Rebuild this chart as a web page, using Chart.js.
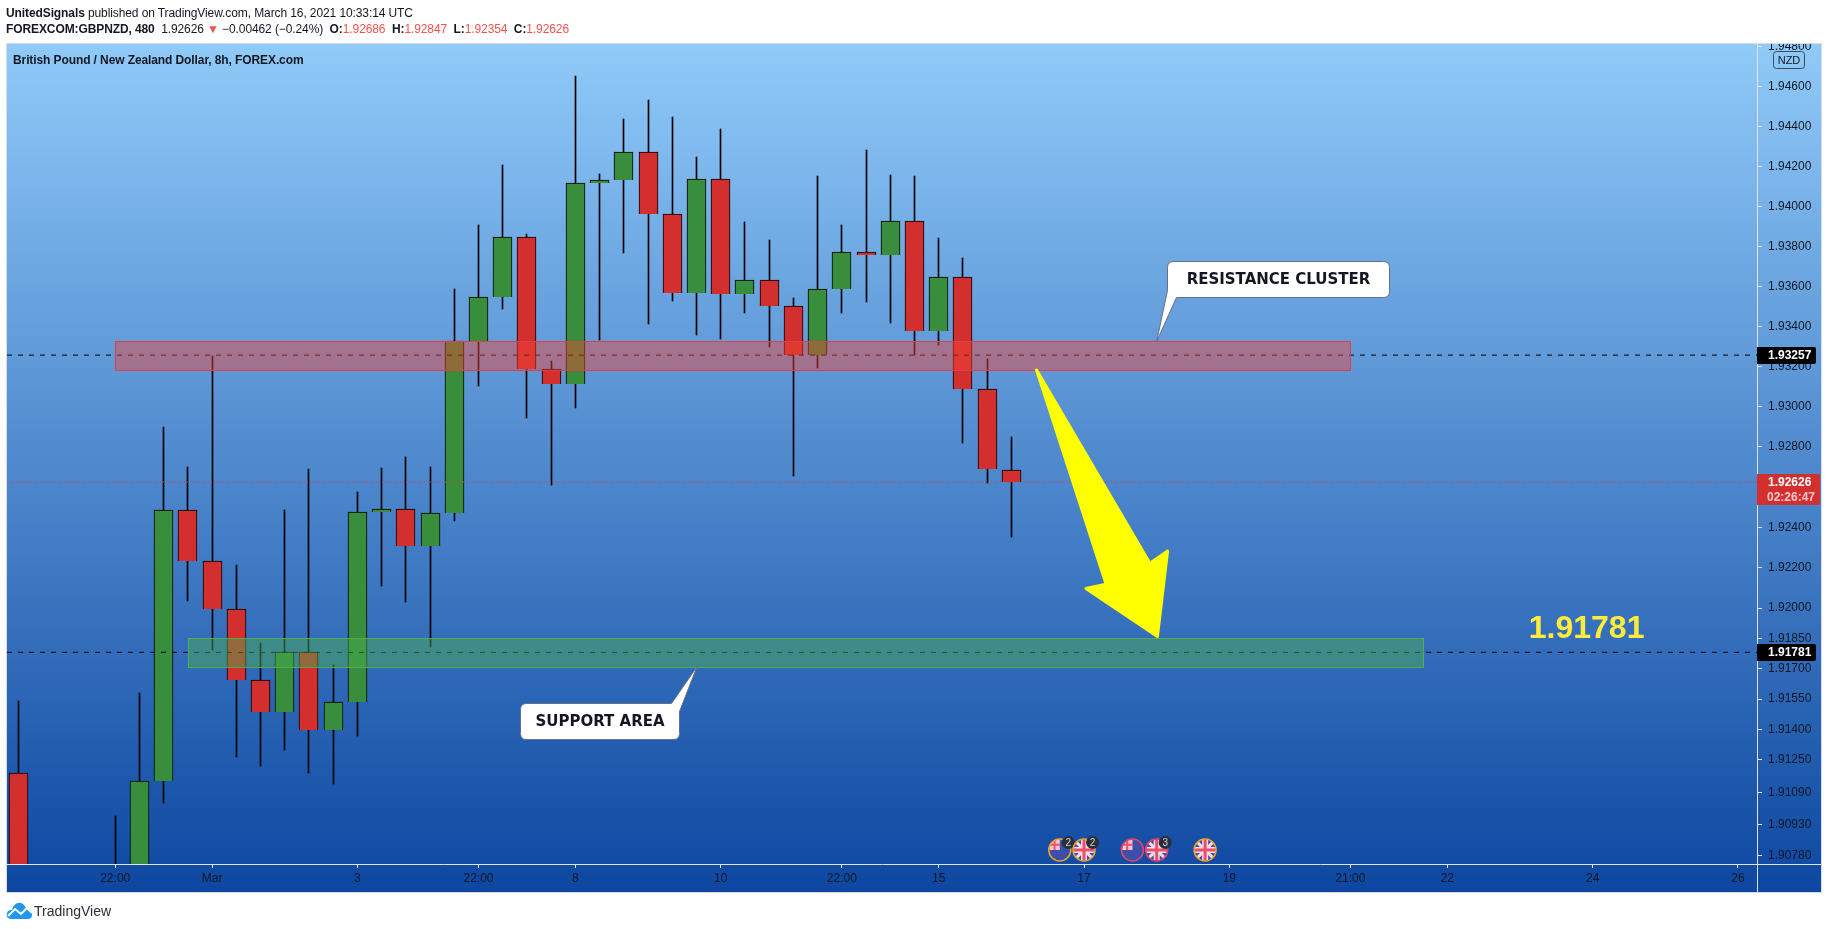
<!DOCTYPE html>
<html>
<head>
<meta charset="utf-8">
<title>GBPNZD</title>
<script src="https://cdn.jsdelivr.net/npm/chart.js@4/dist/chart.umd.js"></script>
<style>
  html, body { margin: 0; padding: 0; background: #fff; }
  body { width: 1828px; height: 929px; position: relative; overflow: hidden; font-family: "Liberation Sans", sans-serif; color: #131722; }
  canvas { position: absolute; left: 0; top: 0; }
  .txt { position: absolute; white-space: nowrap; font-size: 12px; line-height: 16px; letter-spacing: -0.1px; }
  .txt b { font-weight: bold; }
  .red { color: #ef5350; }
</style>
</head>
<body>
<canvas id="chart" width="1828" height="929"></canvas>
<div class="txt" style="left:6px;top:5px"><b>UnitedSignals</b> published on TradingView.com, March 16, 2021 10:33:14 UTC</div>
<div class="txt" style="left:6px;top:21px"><b>FOREXCOM:GBPNZD, 480</b>&nbsp; 1.92626 <span class="red">▼</span> −0.00462 (−0.24%) &nbsp;<b>O:</b><span class="red">1.92686</span> &nbsp;<b>H:</b><span class="red">1.92847</span> &nbsp;<b>L:</b><span class="red">1.92354</span> &nbsp;<b>C:</b><span class="red">1.92626</span></div>
<div class="txt" style="left:13px;top:52px;font-weight:bold">British Pound / New Zealand Dollar, 8h, FOREX.com</div>
<svg style="position:absolute;left:6px;top:902px" width="27" height="17" viewBox="0 0 27 17">
  <path d="M5 17 C1 17 0 13 1 11 C2 8 4 8 6 8 C7 3 11 0 15 1 C18 2 19 4 20 6 C24 6 27 10 26 13 C26 16 24 17 21 17 Z" fill="#2196f3"/>
  <path d="M2 14 L9 7 L15 12 L21 6 L26 11" fill="none" stroke="#fff" stroke-width="2"/>
</svg>
<div class="txt" style="left:34px;top:903px;font-size:14px;color:#2a2e39;letter-spacing:0">TradingView</div>

<script>
// candles, index 0 is the leftmost bar on screen. 1-3 sit completely below the pane
var opens  = [1.91183, null, null, null, 1.90650, 1.90690, 1.91144, 1.92485, 1.92232, 1.91994, 1.91643, 1.91484, 1.91781, 1.91396, 1.91534, 1.92475, 1.92490, 1.92306, 1.92470, 1.93326, 1.93545, 1.93845, 1.93186, 1.93111, 1.94115, 1.94130, 1.94270, 1.93960, 1.93565, 1.94135, 1.93560, 1.93630, 1.93503, 1.93256, 1.93585, 1.93772, 1.93758, 1.93925, 1.93379, 1.93645, 1.93086, 1.92686];
var highs  = [1.91540, null, null, null, 1.90973, 1.91580, 1.92899, 1.92700, 1.93252, 1.92213, 1.91827, 1.92486, 1.92690, 1.91718, 1.92576, 1.92695, 1.92750, 1.92700, 1.93587, 1.93907, 1.94207, 1.93862, 1.93228, 1.94653, 1.94162, 1.94437, 1.94533, 1.94447, 1.94247, 1.94387, 1.93922, 1.93832, 1.93542, 1.94152, 1.93907, 1.94282, 1.94157, 1.94152, 1.93842, 1.93742, 1.93237, 1.92847];
var lows   = [1.90550, null, null, null, 1.90600, 1.90640, 1.91038, 1.92036, 1.91792, 1.91265, 1.91221, 1.91300, 1.91186, 1.91132, 1.91369, 1.92111, 1.92031, 1.91809, 1.92433, 1.93104, 1.93488, 1.92945, 1.92612, 1.92995, 1.93334, 1.93768, 1.93413, 1.93528, 1.93359, 1.93339, 1.93468, 1.93299, 1.92657, 1.93194, 1.93468, 1.93523, 1.93418, 1.93256, 1.93309, 1.92821, 1.92622, 1.92354];
var closes = [1.90600, null, null, null, 1.90690, 1.91144, 1.92485, 1.92232, 1.91994, 1.91643, 1.91484, 1.91781, 1.91396, 1.91534, 1.92475, 1.92490, 1.92306, 1.92470, 1.93326, 1.93545, 1.93845, 1.93186, 1.93111, 1.94115, 1.94130, 1.94270, 1.93960, 1.93565, 1.94135, 1.93560, 1.93630, 1.93503, 1.93256, 1.93585, 1.93770, 1.93758, 1.93925, 1.93379, 1.93645, 1.93086, 1.92688, 1.92626];

var timeTickBars = [4, 8, 14, 19, 23, 29, 34, 38, 44, 50, 55, 59, 65, 71];
var timeTickLabels = ['22:00', 'Mar', '3', '22:00', '8', '10', '22:00', '15', '17', '19', '21:00', '22', '24', '26'];
var priceTicks = [1.948, 1.946, 1.944, 1.942, 1.94, 1.938, 1.936, 1.934, 1.932, 1.93, 1.928, 1.924, 1.922, 1.92, 1.9185, 1.917, 1.9155, 1.914, 1.9125, 1.9109, 1.9093, 1.9078];

var resistanceLevel = 1.93257;
var supportLevel = 1.91781;
var lastPrice = 1.92626;
var countdown = '02:26:47';

// drawings, all anchored in bars and price like on the platform
var zoneBars = [[4, 55], [7, 58]];
var zonePrices = [[1.93326, 1.93184], [1.91850, 1.91710]];
var arrowBars = [42.04, 46.72, 47.45, 47.03, 44.08, 44.91];
var arrowPrices = [1.93183, 1.92222, 1.92283, 1.91859, 1.92097, 1.92119];
var calloutTexts = ['RESISTANCE CLUSTER', 'SUPPORT AREA'];
var calloutBars = [47.0, 28.02];
var calloutPrices = [1.93326, 1.91710];
var targetBar = 64.75;
var targetPrice = 1.91903;

var eventBars = [43, 44, 46, 47, 49];
var eventFlags = ['NZ', 'GB', 'NZ', 'GB', 'GB'];
var eventRings = ['#f2a32c', '#f2a32c', '#e8416b', '#e8416b', '#f2a32c'];
var eventCounts = [2, 2, 0, 3, 0];

var upColor = '#388e3c', downColor = '#d32f2f';
var xMin = -0.468, xMax = 71.786, yMin = 1.90737, yMax = 1.94814;

var bodies = [], wicks = [], bodyColors = [];
opens.forEach(function(o, i){
  if(o === null) return;
  bodies.push({x: i, y: [Math.min(o, closes[i]), Math.max(o, closes[i])]});
  wicks.push({x: i, y: [lows[i], highs[i]]});
  bodyColors.push(closes[i] >= o ? upColor : downColor);
});

function levelLine(price, color, dash){
  return {
    type: 'line',
    data: [{x: xMin, y: price}, {x: xMax, y: price}],
    borderColor: color,
    borderWidth: 1,
    borderDash: dash,
    pointRadius: 0,
    order: 0
  };
}

function roundRect(ctx, x, y, w, h, r){
  ctx.beginPath();
  ctx.roundRect(x, y, w, h, r);
}

function drawCallout(ctx, text, tipX, tipY, box, base){
  ctx.beginPath();
  ctx.moveTo(box.x + 6, box.y);
  if(base.side === 'top'){
    ctx.lineTo(box.x + box.w - 8, box.y);
    ctx.lineTo(tipX, tipY);
    ctx.lineTo(box.x + box.w, box.y + 8);
  } else {
    ctx.lineTo(box.x + box.w - 6, box.y);
    ctx.quadraticCurveTo(box.x + box.w, box.y, box.x + box.w, box.y + 6);
  }
  ctx.lineTo(box.x + box.w, box.y + box.h - 6);
  ctx.quadraticCurveTo(box.x + box.w, box.y + box.h, box.x + box.w - 6, box.y + box.h);
  if(base.side === 'left'){
    ctx.lineTo(box.x + 9, box.y + box.h);
    ctx.lineTo(tipX, tipY);
    ctx.lineTo(box.x, box.y + box.h - 7);
  } else {
    ctx.lineTo(box.x + 6, box.y + box.h);
    ctx.quadraticCurveTo(box.x, box.y + box.h, box.x, box.y + box.h - 6);
  }
  ctx.lineTo(box.x, box.y + 6);
  ctx.quadraticCurveTo(box.x, box.y, box.x + 6, box.y);
  ctx.closePath();
  ctx.fillStyle = '#fff';
  ctx.fill();
  ctx.strokeStyle = '#667085';
  ctx.lineWidth = 1;
  ctx.stroke();
  ctx.fillStyle = '#131722';
  ctx.font = 'bold 15px "DejaVu Sans"';
  ctx.textAlign = 'center';
  ctx.textBaseline = 'middle';
  ctx.fillText(text, box.x + box.w / 2, box.y + box.h / 2 + 0.5);
}

function drawFlag(ctx, flag, cx, cy, r){
  ctx.save();
  ctx.beginPath();
  ctx.arc(cx, cy, r, 0, Math.PI * 2);
  ctx.clip();
  ctx.fillStyle = '#3d4fa8';
  ctx.fillRect(cx - r, cy - r, r * 2, r * 2);
  if(flag === 'GB'){
    ctx.strokeStyle = '#f7dce4';
    ctx.lineWidth = 3;
    ctx.beginPath();
    ctx.moveTo(cx - r, cy - r); ctx.lineTo(cx + r, cy + r);
    ctx.moveTo(cx + r, cy - r); ctx.lineTo(cx - r, cy + r);
    ctx.stroke();
    ctx.lineWidth = 6;
    ctx.beginPath();
    ctx.moveTo(cx, cy - r); ctx.lineTo(cx, cy + r);
    ctx.moveTo(cx - r, cy); ctx.lineTo(cx + r, cy);
    ctx.stroke();
    ctx.strokeStyle = '#e8506e';
    ctx.lineWidth = 3;
    ctx.beginPath();
    ctx.moveTo(cx, cy - r); ctx.lineTo(cx, cy + r);
    ctx.moveTo(cx - r, cy); ctx.lineTo(cx + r, cy);
    ctx.stroke();
  } else {
    ctx.fillStyle = '#f5c6d2';
    ctx.fillRect(cx - r, cy - r, r, r);
    ctx.strokeStyle = '#e8506e';
    ctx.lineWidth = 2;
    ctx.beginPath();
    ctx.moveTo(cx - r / 2, cy - r); ctx.lineTo(cx - r / 2, cy);
    ctx.moveTo(cx - r, cy - r / 2); ctx.lineTo(cx, cy - r / 2);
    ctx.stroke();
  }
  ctx.restore();
}

var paneDrawings = {
  id: 'paneDrawings',
  beforeDraw: function(chart){
    var ctx = chart.ctx;
    var grad = ctx.createLinearGradient(0, 44, 0, 892);
    grad.addColorStop(0, '#90caf9');
    grad.addColorStop(1, '#0d47a1');
    ctx.fillStyle = grad;
    ctx.fillRect(7, 44, 1814, 848);
  },
  beforeDatasetsDraw: function(chart){
    // snap candles to whole pixels, the platform draws them crisp
    [0, 1].forEach(function(d){
      chart.getDatasetMeta(d).data.forEach(function(el){
        el.x = Math.floor(el.x) + 0.5;
        el.y = Math.round(el.y);
        el.base = Math.round(el.base);
      });
    });
  },
  afterDatasetsDraw: function(chart){
    var ctx = chart.ctx, xs = chart.scales.x, ys = chart.scales.y;
    var area = chart.chartArea;

    ctx.save();
    ctx.beginPath();
    ctx.rect(area.left, area.top, area.width, area.height);
    ctx.clip();

    var zoneFills = ['rgba(244,67,54,0.46)', 'rgba(76,175,80,0.46)'];
    var zoneLines = ['#d8434a', '#4caf50'];
    zoneBars.forEach(function(b, i){
      var x1 = Math.round(xs.getPixelForValue(b[0])) + 0.5;
      var x2 = Math.round(xs.getPixelForValue(b[1])) + 0.5;
      var y1 = Math.round(ys.getPixelForValue(zonePrices[i][0])) + 0.5;
      var y2 = Math.round(ys.getPixelForValue(zonePrices[i][1])) + 0.5;
      ctx.fillStyle = zoneFills[i];
      ctx.fillRect(x1, y1, x2 - x1, y2 - y1);
      ctx.strokeStyle = zoneLines[i];
      ctx.lineWidth = 1;
      ctx.strokeRect(x1, y1, x2 - x1, y2 - y1);
    });

    ctx.beginPath();
    arrowBars.forEach(function(b, i){
      var px = xs.getPixelForValue(b), py = ys.getPixelForValue(arrowPrices[i]);
      if(i === 0) ctx.moveTo(px, py); else ctx.lineTo(px, py);
    });
    ctx.closePath();
    ctx.fillStyle = '#ffff00';
    ctx.strokeStyle = '#ffff00';
    ctx.lineWidth = 3;
    ctx.lineJoin = 'round';
    ctx.fill();
    ctx.stroke();

    var tip0X = xs.getPixelForValue(calloutBars[0]), tip0Y = ys.getPixelForValue(calloutPrices[0]);
    drawCallout(ctx, calloutTexts[0], tip0X, tip0Y, {x: Math.round(tip0X) + 10.5, y: Math.round(tip0Y) - 79.5, w: 222, h: 36}, {side: 'left'});
    var tip1X = xs.getPixelForValue(calloutBars[1]), tip1Y = ys.getPixelForValue(calloutPrices[1]);
    drawCallout(ctx, calloutTexts[1], tip1X, tip1Y, {x: Math.round(tip1X) - 176.5, y: Math.round(tip1Y) + 36.5, w: 159, h: 36}, {side: 'top'});

    ctx.fillStyle = '#ffeb3b';
    ctx.font = 'bold 32px "Liberation Sans"';
    ctx.textAlign = 'center';
    ctx.textBaseline = 'middle';
    ctx.fillText('1.91781', xs.getPixelForValue(targetBar), ys.getPixelForValue(targetPrice) + 1);

    eventBars.forEach(function(b, i){
      var cx = xs.getPixelForValue(b), cy = 850;
      drawFlag(ctx, eventFlags[i], cx, cy, 10.5);
      ctx.beginPath();
      ctx.arc(cx, cy, 11, 0, Math.PI * 2);
      ctx.strokeStyle = eventRings[i];
      ctx.lineWidth = 1.5;
      ctx.stroke();
      if(eventCounts[i]){
        ctx.beginPath();
        ctx.arc(cx + 8.5, cy - 7.5, 6.5, 0, Math.PI * 2);
        ctx.fillStyle = '#2a2e39';
        ctx.fill();
        ctx.fillStyle = '#d1d4dc';
        ctx.font = '10px "Liberation Sans"';
        ctx.textAlign = 'center';
        ctx.textBaseline = 'middle';
        ctx.fillText(String(eventCounts[i]), cx + 8.5, cy - 7);
      }
    });
    ctx.restore();
  },
  afterDraw: function(chart){
    var ctx = chart.ctx, ys = chart.scales.y, area = chart.chartArea;
    ctx.save();

    // axis lines run on through the corner of the pane
    ctx.strokeStyle = '#dfe6ef';
    ctx.lineWidth = 1;
    ctx.beginPath();
    ctx.moveTo(area.right + 0.5, area.bottom); ctx.lineTo(area.right + 0.5, 892);
    ctx.moveTo(area.right, area.bottom + 0.5); ctx.lineTo(1821, area.bottom + 0.5);
    ctx.stroke();

    // top label gets cut by the pane edge
    ctx.fillStyle = '#fff';
    ctx.fillRect(0, 0, 1828, 43);
    ctx.strokeStyle = '#d6dbe4';
    ctx.strokeRect(6.5, 43.5, 1815, 849);

    ctx.textAlign = 'left';
    ctx.textBaseline = 'middle';

    [resistanceLevel, supportLevel].forEach(function(price){
      var y = Math.round(ys.getPixelForValue(price));
      ctx.fillStyle = '#000';
      ctx.beginPath();
      ctx.roundRect(1757, y - 8, 59, 17, [0, 2, 2, 0]);
      ctx.fill();
      ctx.fillStyle = '#fff';
      ctx.font = 'bold 12px "Liberation Sans"';
      ctx.fillText(price.toFixed(5), 1768, y + 1);
    });

    var ly = Math.round(ys.getPixelForValue(lastPrice));
    ctx.fillStyle = '#d32f2f';
    ctx.beginPath();
    ctx.roundRect(1757, ly - 8, 63, 31, [0, 2, 2, 0]);
    ctx.fill();
    ctx.fillStyle = '#fff';
    ctx.font = 'bold 12px "Liberation Sans"';
    ctx.fillText(lastPrice.toFixed(5), 1768, ly + 1);
    ctx.fillStyle = '#f6c9c9';
    ctx.fillText(countdown, 1767, ly + 16);

    ctx.strokeStyle = '#3c4a60';
    ctx.beginPath();
    ctx.roundRect(1773.5, 51.5, 31, 17, 3);
    ctx.stroke();
    ctx.fillStyle = '#131722';
    ctx.font = '11px "Liberation Sans"';
    ctx.textAlign = 'center';
    ctx.fillText('NZD', 1789, 60.5);
    ctx.restore();
  }
};

new Chart(document.getElementById('chart'), {
  type: 'bar',
  data: {
    datasets: [
      {data: wicks, backgroundColor: '#000', borderWidth: 0, barThickness: 1, grouped: false, order: 2},
      {data: bodies, backgroundColor: bodyColors, borderColor: '#000', borderWidth: 1, barThickness: 19, grouped: false, order: 1},
      levelLine(resistanceLevel, '#000', [5, 6]),
      levelLine(supportLevel, '#000', [5, 6]),
      levelLine(lastPrice, '#e53935', [1, 2])
    ]
  },
  options: {
    responsive: false,
    animation: false,
    layout: {padding: {left: 7, top: 44, right: 0, bottom: 37}},
    plugins: {legend: {display: false}, tooltip: {enabled: false}, title: {display: false}},
    scales: {
      x: {
        type: 'linear',
        min: xMin,
        max: xMax,
        offset: false,
        grid: {offset: false, drawOnChartArea: false, color: '#dfe6ef', tickLength: 4},
        border: {color: '#dfe6ef'},
        afterBuildTicks: function(scale){
          scale.ticks = timeTickBars.map(function(b){ return {value: b}; });
        },
        afterFit: function(scale){ scale.height = 28; },
        ticks: {
          autoSkip: false,
          maxRotation: 0,
          padding: 3,
          color: '#131722',
          font: {family: '"Liberation Sans"', size: 12},
          callback: function(v){ return timeTickLabels[timeTickBars.indexOf(v)]; }
        }
      },
      y: {
        type: 'logarithmic',
        position: 'right',
        min: yMin,
        max: yMax,
        grid: {drawOnChartArea: false, color: '#dfe6ef', tickLength: 5},
        border: {color: '#dfe6ef'},
        afterBuildTicks: function(scale){
          scale.ticks = priceTicks.map(function(v){ return {value: v}; });
        },
        afterFit: function(scale){ scale.width = 71; },
        ticks: {
          autoSkip: false,
          padding: 6,
          color: '#131722',
          font: {family: '"Liberation Sans"', size: 12},
          callback: function(v){ return v.toFixed(5); }
        }
      }
    }
  },
  plugins: [paneDrawings]
});
</script>
</body>
</html>
